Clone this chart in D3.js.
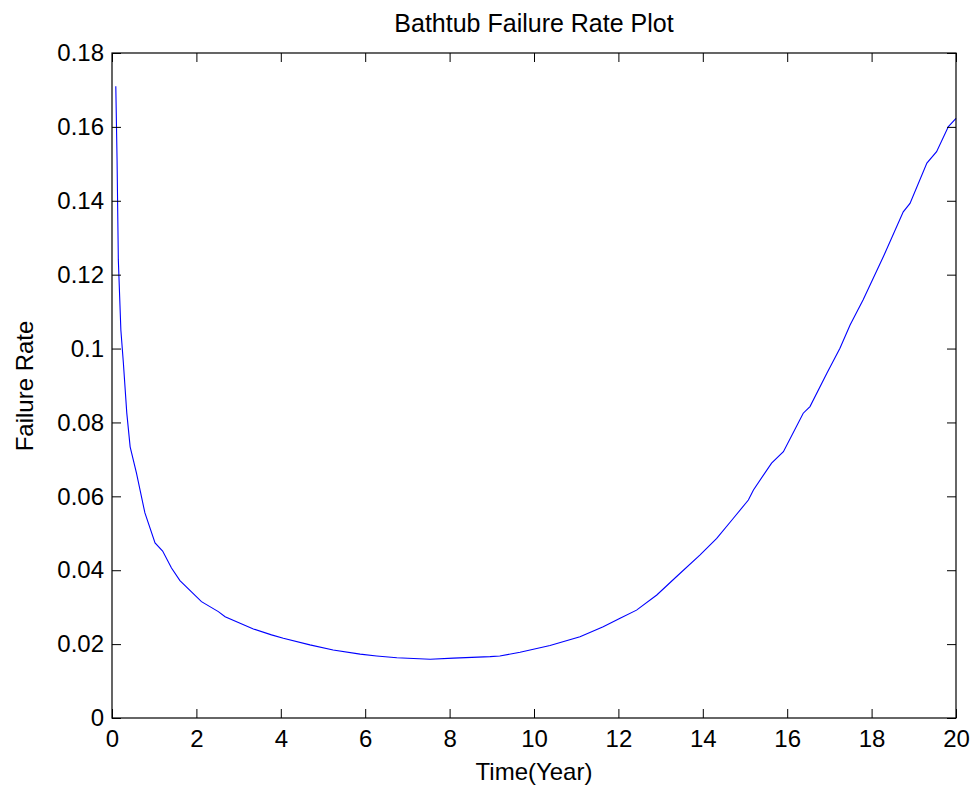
<!DOCTYPE html>
<html>
<head>
<meta charset="utf-8">
<script src="https://cdn.jsdelivr.net/npm/d3@7"></script>
<style>
  body { margin: 0; background: #fff; }
  text { font-family: "Liberation Sans", Arial, sans-serif; fill: #000; }
</style>
</head>
<body>
<svg id="chart" width="973" height="786"></svg>
<script>
// values
const timeYears = [0.09, 0.12, 0.15, 0.21, 0.27, 0.35, 0.43, 0.58, 0.78, 1.02, 1.2, 1.41, 1.61,
  2.12, 2.52, 2.68, 3.35, 3.78, 4.06, 4.69, 5.24, 5.88, 6.27, 6.75, 7.54, 8.09, 8.96, 9.19,
  9.67, 10.38, 11.09, 11.64, 12.04, 12.43, 12.91, 13.38, 13.93, 14.33, 14.72, 15.08, 15.2,
  15.63, 15.91, 16.38, 16.54, 16.94, 17.25, 17.49, 17.8, 18.28, 18.75, 18.91, 19.31, 19.54,
  19.82, 20]
const failureRate = [0.171, 0.151, 0.124, 0.105, 0.096, 0.0826, 0.0734, 0.0663, 0.0555, 0.0474,
  0.0452, 0.0406, 0.0372, 0.0315, 0.0288, 0.0274, 0.0241, 0.0225, 0.0216, 0.0198, 0.0184,
  0.0173, 0.0168, 0.0163, 0.0159, 0.0162, 0.0166, 0.0168, 0.0178, 0.0196, 0.022, 0.0247,
  0.027, 0.0292, 0.0333, 0.0383, 0.0441, 0.0486, 0.054, 0.059, 0.0617, 0.069, 0.0721,
  0.0825, 0.0843, 0.0933, 0.1001, 0.1064, 0.1132, 0.1249, 0.137, 0.1393, 0.1502, 0.1533,
  0.1601, 0.1623]
const xTicks = [0, 2, 4, 6, 8, 10, 12, 14, 16, 18, 20]
const yTicks = [0, 0.02, 0.04, 0.06, 0.08, 0.1, 0.12, 0.14, 0.16, 0.18]

const boxL = 112, boxR = 956, boxT = 53, boxB = 718
const tickLen = 9
const fontPx = '24px'

const svg = d3.select('#chart')
const x = d3.scaleLinear().domain([0, 20]).range([boxL, boxR])
const y = d3.scaleLinear().domain([0, 0.18]).range([boxB, boxT])

// the curve
const pts = timeYears.map((t, i) => [t, failureRate[i]])
svg.append('path')
  .datum(pts)
  .attr('fill', 'none')
  .attr('stroke', '#0000ff')
  .attr('stroke-width', 1.1)
  .attr('d', d3.line().x(d => x(d[0])).y(d => y(d[1])))

// axes, ticks point inward on every side
const fmt = d => d3.format('~g')(d)
const axisStyle = g => {
  g.select('.domain').remove()
  g.selectAll('line').attr('stroke', '#000')
  g.selectAll('text').attr('font-size', fontPx)
    .attr('font-family', '"Liberation Sans", Arial, sans-serif').attr('fill', '#000')
}
svg.append('g').attr('transform', `translate(0,${boxB})`)
  .call(d3.axisBottom(x).tickValues(xTicks).tickSize(-tickLen).tickPadding(12).tickFormat(fmt))
  .call(axisStyle)
svg.append('g').attr('transform', `translate(0,${boxT})`)
  .call(d3.axisTop(x).tickValues(xTicks).tickSize(-tickLen).tickFormat(''))
  .call(axisStyle)
svg.append('g').attr('transform', `translate(${boxL},0)`)
  .call(d3.axisLeft(y).tickValues(yTicks).tickSize(-tickLen).tickPadding(8).tickFormat(fmt))
  .call(axisStyle)
svg.append('g').attr('transform', `translate(${boxR},0)`)
  .call(d3.axisRight(y).tickValues(yTicks).tickSize(-tickLen).tickFormat(''))
  .call(axisStyle)

// box outline
svg.append('rect')
  .attr('x', boxL).attr('y', boxT)
  .attr('width', boxR - boxL).attr('height', boxB - boxT)
  .attr('fill', 'none').attr('stroke', '#000').attr('stroke-width', 1.2)

// texts
svg.append('text')
  .attr('x', (boxL + boxR) / 2).attr('y', 32)
  .attr('text-anchor', 'middle').attr('font-size', '25px')
  .text('Bathtub Failure Rate Plot')
svg.append('text')
  .attr('x', (boxL + boxR) / 2).attr('y', 780)
  .attr('text-anchor', 'middle').attr('font-size', fontPx)
  .text('Time(Year)')
svg.append('text')
  .attr('transform', `translate(33,386) rotate(-90)`)
  .attr('text-anchor', 'middle').attr('font-size', fontPx)
  .text('Failure Rate')
</script>
</body>
</html>
